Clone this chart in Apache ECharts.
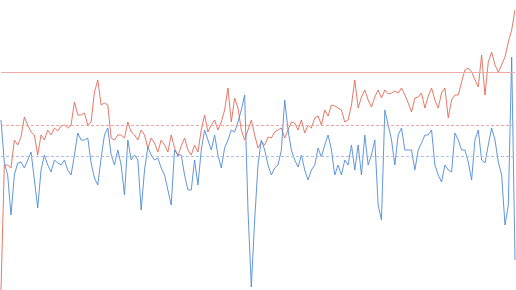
<!DOCTYPE html>
<html>
<head>
<meta charset="utf-8">
<script src="https://cdn.jsdelivr.net/npm/echarts@6/dist/echarts.min.js"></script>
<style>html,body{margin:0;padding:0;background:#fff;}#c{width:516px;height:290px;}</style>
</head>
<body>
<div id="c"></div>
<script>
var redValues = [0,125,125,122,150,145,153,173,165,158,155,135,155,150,160,155,162,159,164,165,
162,165,188,175,175,177,165,168,198,210,185,187,185,152,150,155,155,152,168,158,
155,150,160,155,142,152,147,138,150,145,138,155,142,134,144,152,140,135,145,138,
160,175,158,165,170,160,168,180,202,168,192,182,160,150,160,170,155,142,148,145,
153,152,158,160,162,152,160,168,167,160,170,157,165,162,172,174,165,180,174,185,
184,182,180,168,170,185,210,182,193,200,190,183,193,200,192,200,196,197,199,197,
202,195,187,178,192,193,197,182,194,202,190,182,197,202,172,190,195,195,208,220,
222,218,210,203,235,195,228,238,225,218,225,233,248,260,280];
var blueValues = [170,127,115,75,115,127,128,122,130,138,110,82,120,135,125,118,130,127,125,130,
120,115,135,157,150,150,152,127,112,105,132,155,162,135,125,140,125,95,150,130,
135,130,80,120,143,135,130,132,122,115,100,85,140,135,135,115,100,100,130,105,
140,160,150,140,155,135,122,142,150,160,158,168,180,195,80,3,70,125,150,140,
125,115,122,125,140,190,160,140,130,123,135,120,110,120,125,142,133,145,155,140,
115,125,115,130,125,145,120,145,115,155,125,135,150,85,70,180,165,150,125,155,
162,140,140,140,120,140,147,155,155,160,125,115,108,125,120,118,157,150,140,140,
128,110,150,160,130,127,145,162,150,128,115,65,85,233,30];
var categories = redValues.map(function(_, i){ return String(i); });
var refLines = { redSolid: 218, redDashed: 165, blueDashed: 134 };

var chart = echarts.init(document.getElementById('c'), null, {renderer:'canvas'});
chart.setOption({
  animation: false,
  grid: {left: 1, right: 1, top: 0, bottom: 0},
  xAxis: {type:'category', data: categories, boundaryGap:false, show:false},
  yAxis: {type:'value', min:0, max:290, show:false, splitLine:{show:false}},
  series: [
    {
      type:'line', data: redValues, symbol:'none', smooth:false,
      lineStyle:{color:'#e36a58', width:0.9},
      markLine:{
        silent:true, symbol:'none', label:{show:false},
        data:[
          {yAxis: refLines.redSolid, lineStyle:{type:'solid', color:'#f0aca2', width:1}},
          {yAxis: refLines.redDashed, lineStyle:{type:[3,2], color:'#eba193', width:1, opacity:0.9}}
        ]
      }
    },
    {
      type:'line', data: blueValues, symbol:'none', smooth:false,
      lineStyle:{color:'#4f8ad8', width:0.9},
      markLine:{
        silent:true, symbol:'none', label:{show:false},
        data:[
          {yAxis: refLines.blueDashed, lineStyle:{type:[3,2], color:'#a3bde6', width:1, opacity:0.9}}
        ]
      }
    }
  ]
});
</script>
</body>
</html>
